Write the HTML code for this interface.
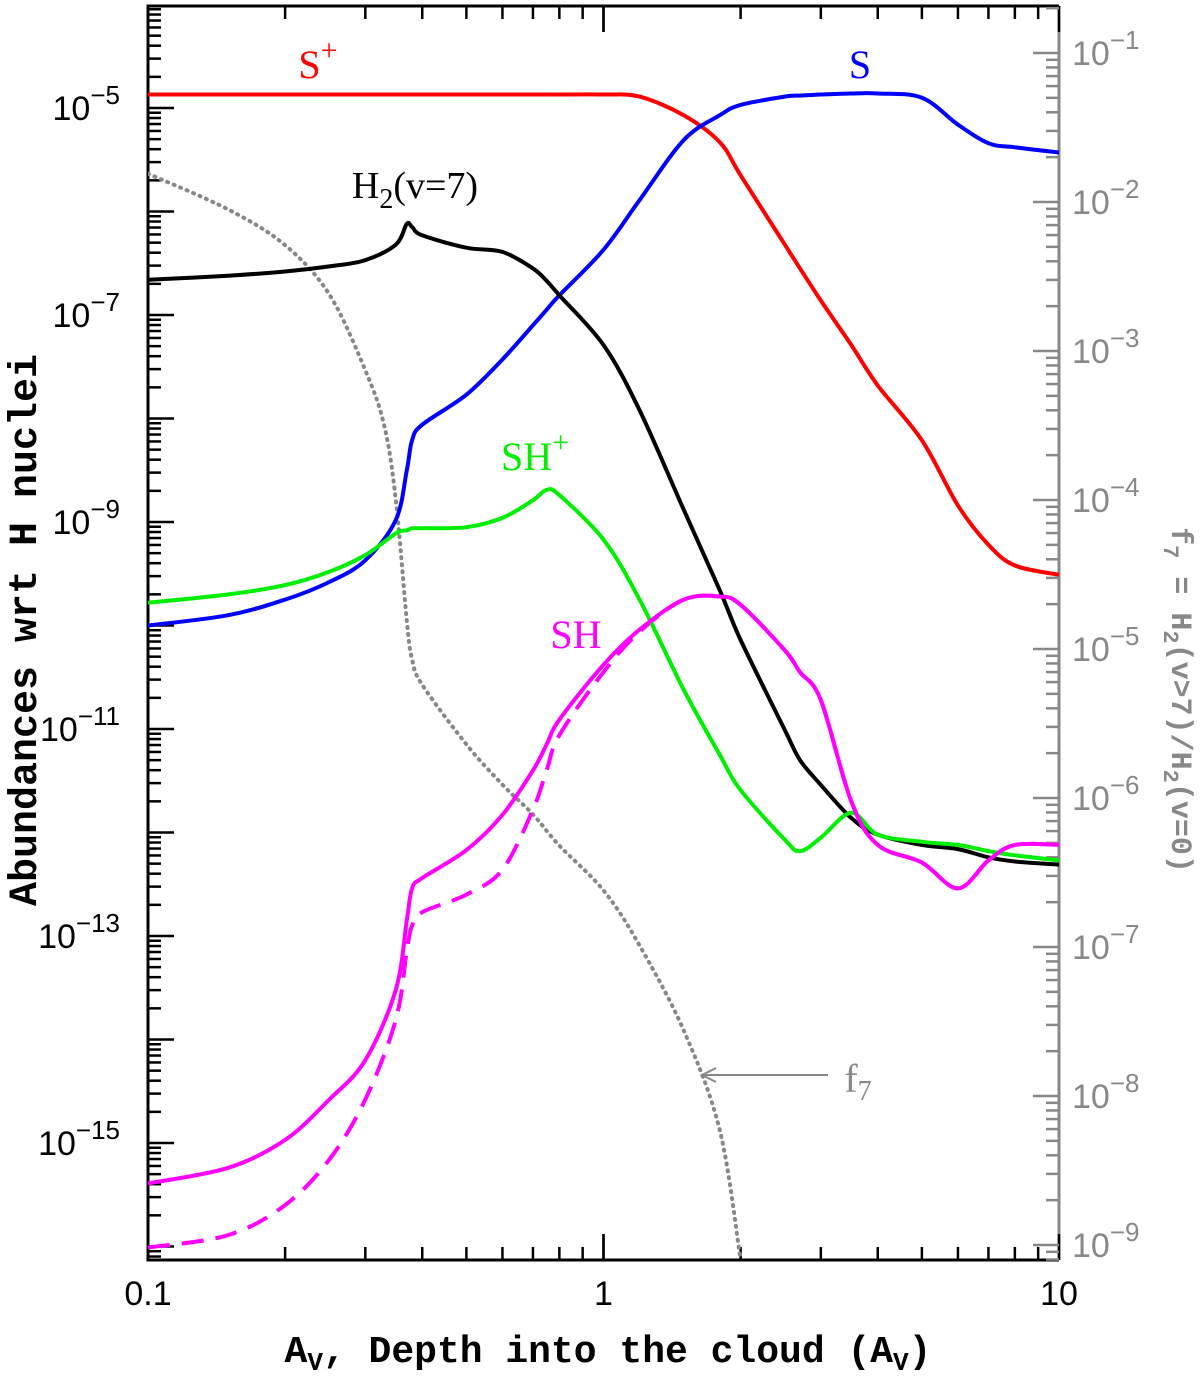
<!DOCTYPE html>
<html><head><meta charset="utf-8"><style>
body{margin:0;background:#fff}
svg{display:block}
text{font-family:"Liberation Serif",serif}
.mono{font-family:"Liberation Mono",monospace;font-weight:bold}
.tick{font-family:"Liberation Sans",sans-serif}
</style></head><body>
<svg id="chart" width="1200" height="1377" viewBox="0 0 1200 1377" xmlns="http://www.w3.org/2000/svg">
<defs><clipPath id="clip"><rect x="148" y="6" width="911" height="1254"/></clipPath></defs>
<g id="axes"></g><g id="series" clip-path="url(#clip)"></g><g id="labels"></g>
</svg>
<script>
const av = [0.1,0.15,0.2,0.25,0.3,0.35,0.37,0.38,0.4,0.5,0.6,0.7,0.75,0.8,1,1.2,1.5,1.8,2,2.5,2.7,3,3.5,4,5,6,7,8,10];
const sPlus = [-4.87,-4.87,-4.87,-4.87,-4.87,-4.87,-4.87,-4.87,-4.87,-4.87,-4.87,-4.87,-4.87,-4.87,-4.87,-4.89,-5.07,-5.33,-5.65,-6.32,-6.55,-6.86,-7.29,-7.68,-8.21,-8.84,-9.22,-9.42,-9.51];
const sAtom = [-10.0,-9.9,-9.75,-9.58,-9.37,-8.98,-8.5,-8.21,-8.06,-7.77,-7.43,-7.1,-6.95,-6.81,-6.37,-5.89,-5.31,-5.07,-4.97,-4.89,-4.88,-4.87,-4.86,-4.86,-4.9,-5.16,-5.34,-5.38,-5.43];
const h2v7 = [-6.66,-6.62,-6.58,-6.53,-6.47,-6.32,-6.12,-6.15,-6.23,-6.35,-6.39,-6.55,-6.67,-6.81,-7.29,-7.92,-8.88,-9.66,-10.14,-11.01,-11.3,-11.54,-11.86,-12.02,-12.12,-12.16,-12.24,-12.28,-12.31];
const shPlus = [-9.78,-9.7,-9.61,-9.48,-9.32,-9.11,-9.08,-9.06,-9.06,-9.05,-8.96,-8.79,-8.69,-8.74,-9.17,-9.75,-10.62,-11.25,-11.59,-12.07,-12.18,-12.05,-11.81,-12.02,-12.09,-12.12,-12.18,-12.22,-12.27];
const shSolid = [-15.39,-15.24,-14.97,-14.58,-14.2,-13.52,-12.85,-12.54,-12.44,-12.17,-11.83,-11.4,-11.15,-10.91,-10.38,-10.04,-9.75,-9.72,-9.8,-10.24,-10.45,-10.72,-11.7,-12.12,-12.29,-12.54,-12.27,-12.12,-12.12];
const shDashed = [-16.01,-15.89,-15.6,-15.16,-14.58,-13.81,-13.14,-12.9,-12.77,-12.6,-12.36,-11.78,-11.4,-11.06,-10.45,-10.06,-9.75,-9.72,-9.8,-10.24,-10.45,-10.72,-11.7,-12.12,-12.29,-12.54,-12.27,-12.12,-12.12];
const f7Av = [0.1,0.15,0.2,0.25,0.3,0.33,0.35,0.37,0.38,0.4,0.5,0.6,0.7,0.8,1,1.2,1.5,1.8,2];
const f7 = [-1.81,-2.05,-2.29,-2.62,-3.13,-3.5,-4.0,-4.81,-5.07,-5.24,-5.64,-5.91,-6.11,-6.32,-6.62,-6.99,-7.56,-8.23,-9.1];
const leftTicks = [-5,-7,-9,-11,-13,-15];
const rightTicks = [-1,-2,-3,-4,-5,-6,-7,-8,-9];
const xTickLabels = ["0.1","1","10"];

const NS="http://www.w3.org/2000/svg";
const L=148,R=1059,T=6,B=1260;
const X=v=>L+(Math.log10(v)+1)*455.5;
const YL=l=>108+(-5-l)*103.5;
const YR=l=>1245-(l+9)*149;
function mk(tag,attrs,parent){const e=document.createElementNS(NS,tag);for(const k in attrs)e.setAttribute(k,attrs[k]);parent.appendChild(e);return e;}
const axes=document.getElementById('axes'),series=document.getElementById('series'),labels=document.getElementById('labels');

let fr=mk('path',{d:`M${R},${T} L${L},${T} L${L},${B} L${R},${B}`,fill:'none',stroke:'#000','stroke-width':3},axes);

let ra=mk('line',{x1:R,y1:T,x2:R,y2:B,stroke:'#888','stroke-width':3},axes);


for(let d=-1;d<=0;d++)for(let m=1;m<=10;m++){const v=m*Math.pow(10,d);const x=X(v);const len=(m===1||m===10)?26:13;
 mk('line',{x1:x,y1:B,x2:x,y2:B-len,stroke:'#000','stroke-width':2.5},axes);
 mk('line',{x1:x,y1:T,x2:x,y2:T+len,stroke:'#000','stroke-width':2.5},axes);}
xTickLabels.forEach(s=>{const t=mk('text',{x:X(parseFloat(s)),y:1305,'font-size':34,'text-anchor':'middle',class:'tick'},labels);t.textContent=s;
 });
for(let d=-17;d<=-5;d++)for(let m=1;m<10;m++){const l=d+Math.log10(m);const y=YL(l);if(y<T||y>B)continue;const len=m===1?26:13;
 mk('line',{x1:L,y1:y,x2:L+len,y2:y,stroke:'#000','stroke-width':2.5},axes);}
leftTicks.forEach(l=>{const t=mk('text',{x:120,y:YL(l)+12,'font-size':34,'text-anchor':'end',class:'tick'},labels);
 t.innerHTML=`10<tspan dy="-16" font-size="26">−${-l}</tspan>`;
 });
for(let d=-10;d<=-1;d++)for(let m=1;m<10;m++){const l=d+Math.log10(m);const y=YR(l);if(y<T||y>B)continue;const len=m===1?26:13;
 mk('line',{x1:R,y1:y,x2:R-len,y2:y,stroke:'#888','stroke-width':2.5},axes);}
rightTicks.forEach(l=>{const t=mk('text',{x:1072,y:YR(l)+12,'font-size':34,fill:'#888',class:'tick'},labels);
 t.innerHTML=`10<tspan dy="-16" font-size="26">−${-l}</tspan>`;
 });

function smooth(pts){let d='M'+pts[0][0].toFixed(1)+','+pts[0][1].toFixed(1);
 for(let i=0;i<pts.length-1;i++){const p0=pts[Math.max(0,i-1)],p1=pts[i],p2=pts[i+1],p3=pts[Math.min(pts.length-1,i+2)];
  const c1=[p1[0]+(p2[0]-p0[0])/6,p1[1]+(p2[1]-p0[1])/6],c2=[p2[0]-(p3[0]-p1[0])/6,p2[1]-(p3[1]-p1[1])/6];
  d+=` C${c1[0].toFixed(1)},${c1[1].toFixed(1)} ${c2[0].toFixed(1)},${c2[1].toFixed(1)} ${p2[0].toFixed(1)},${p2[1].toFixed(1)}`;}
 return d;}
function line(xs,ys,yf,color,name,extra){const d=smooth(xs.map((v,i)=>[X(v),yf(ys[i])]));
 const p=mk('path',Object.assign({d,fill:'none',stroke:color,'stroke-width':4,'stroke-linejoin':'round'},extra||{}),series);
 }
line(f7Av,f7,YR,'#888','f7-line',{'stroke-dasharray':'1 6','stroke-linecap':'round','stroke-width':4});
line(av,shDashed,YL,'#ff00ff','sh-dashed-line',{'stroke-dasharray':'22 12'});
line(av,sPlus,YL,'#ff0000','s-plus-line');
line(av,sAtom,YL,'#0000ff','s-line');
line(av,h2v7,YL,'#000','h2-v7-line');
line(av,shPlus,YL,'#00ee00','sh-plus-line');
line(av,shSolid,YL,'#ff00ff','sh-line');

function lab(x,y,html,color,name,size){const t=mk('text',{x,y,'font-size':size||40,fill:color,'text-anchor':'middle'},labels);t.innerHTML=html;
 }
lab(318,78,'S<tspan dy="-18" font-size="30">+</tspan>','#ff0000','s-plus-label');
lab(860,78,'S','#0000ff','s-label');
lab(415,198,'H<tspan dy="10" font-size="28">2</tspan><tspan dy="-10">(v=7)</tspan>','#000','h2-v7-label',38);
lab(535,470,'SH<tspan dy="-18" font-size="30">+</tspan>','#00ee00','sh-plus-label');
lab(576,648,'SH','#ff00ff','sh-label');
lab(858,1092,'f<tspan dy="8" font-size="28">7</tspan>','#888','f7-label');
let ar=mk('path',{d:'M828,1075 L702,1075 M716,1068 L702,1075 L716,1082',stroke:'#888','stroke-width':2,fill:'none'},labels);

let xt=mk('text',{x:608,y:1362,'font-size':38,'text-anchor':'middle',class:'mono'},labels);
xt.innerHTML='A<tspan dy="8" font-size="26">V</tspan><tspan dy="-8">, Depth into the cloud (A</tspan><tspan dy="8" font-size="26">V</tspan><tspan dy="-8">)</tspan>';

let yt=mk('text',{x:0,y:0,'font-size':40,'text-anchor':'middle',class:'mono',transform:'translate(36,630) rotate(-90)'},labels);
yt.textContent='Abundances wrt H nuclei';

let rt=mk('text',{x:0,y:0,'font-size':30,'text-anchor':'middle',fill:'#888',class:'mono',transform:'translate(1172,700) rotate(90)'},labels);
rt.innerHTML='f<tspan dy="8" font-size="22">7</tspan><tspan dy="-8"> = H</tspan><tspan dy="8" font-size="22">2</tspan><tspan dy="-8">(v&gt;7)/H</tspan><tspan dy="8" font-size="22">2</tspan><tspan dy="-8">(v=0)</tspan>';

</script>
</body></html>
